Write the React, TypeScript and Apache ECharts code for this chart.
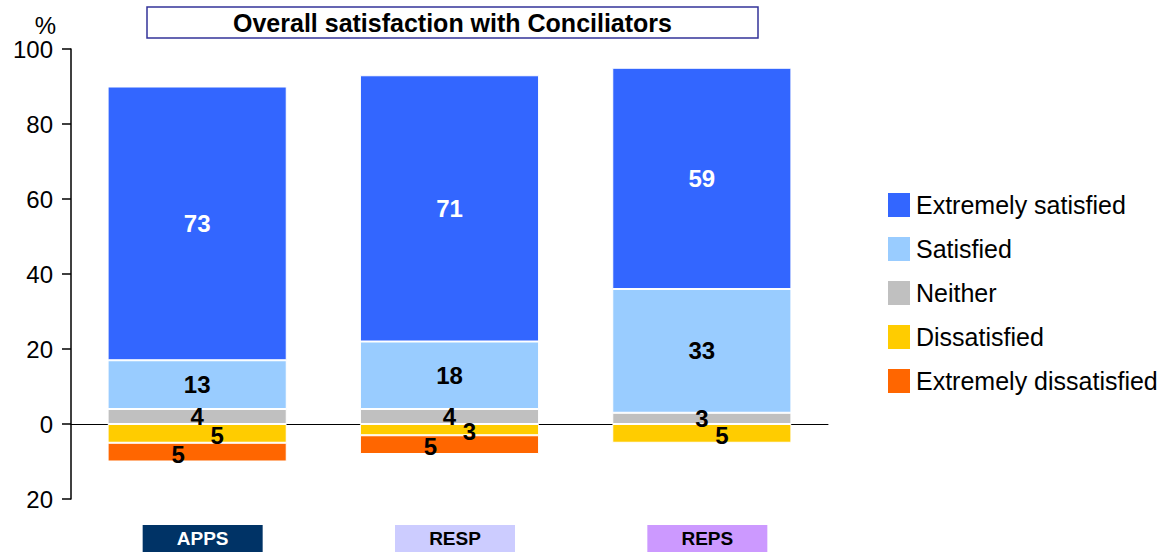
import React, { useEffect, useRef } from "react";
import * as echarts from "echarts";

const categories = ["APPS", "RESP", "REPS"];
const extremelySatisfied = [73, 71, 59];
const satisfied = [13, 18, 33];
const neither = [4, 4, 3];
const dissatisfied = [-5, -3, -5];
const extremelyDissatisfied = [-5, -5, null];
const legendOrder = ["Extremely satisfied", "Satisfied", "Neither", "Dissatisfied", "Extremely dissatisfied"];
const yTicks = { min: -20, max: 100, interval: 20 };

const FONT = "Arial, 'Liberation Sans', sans-serif";

export default function App() {
  const ref = useRef<HTMLDivElement>(null);
  useEffect(() => {
    if (!ref.current) return;
    const chart = echarts.init(ref.current, null, { renderer: "svg" });
    const absFmt = (p: any) => (p.value == null || p.value === 0 ? "" : String(Math.abs(p.value)));
    const lbl = (color: string, offset: number[] = [0, 0]) => ({
      show: true,
      position: "inside",
      color,
      fontSize: 24,
      fontWeight: "bold",
      fontFamily: FONT,
      offset,
      formatter: absFmt,
    });
    const seriesBase = {
      type: "bar",
      stack: "total",
      barCategoryGap: "29%",
      xAxisIndex: 0,
      yAxisIndex: 0,
    };
    const catBox = (bg: string, color: string) => ({
      width: 120,
      height: 27,
      lineHeight: 27,
      align: "center",
      backgroundColor: bg,
      color,
      fontSize: 19,
      fontWeight: "bold",
      fontFamily: FONT,
    });
    chart.setOption({
      animation: false,
      backgroundColor: "#ffffff",
      title: {
        text: "Overall satisfaction with Conciliators",
        left: 147,
        top: 7,
        padding: [4, 86, 3, 86],
        borderColor: "#333399",
        borderWidth: 1.5,
        textStyle: { fontSize: 25, fontWeight: "bold", color: "#000", fontFamily: FONT, lineHeight: 24 },
      },
      legend: {
        orient: "vertical",
        left: 881,
        top: 186,
        itemWidth: 24,
        itemHeight: 26,
        itemGap: 16,
        icon: "rect",
        data: legendOrder,
        textStyle: { fontSize: 25, color: "#000", fontFamily: FONT },
        selectedMode: false,
      },
      grid: { left: 71, right: 339, top: 49, bottom: 53, containLabel: false },
      xAxis: [
        {
          type: "category",
          data: categories,
          position: "top",
          axisLine: { onZero: true, lineStyle: { color: "#000", width: 1 } },
          axisTick: { show: false },
          axisLabel: { show: false },
        },
        {
          type: "category",
          data: categories,
          position: "bottom",
          axisLine: { show: false, onZero: false },
          axisTick: { show: false },
          axisLabel: {
            margin: 26,
            formatter: (v: string) => `{s|}{${v}|${v}}`,
            rich: {
              s: { width: 11 },
              APPS: catBox("#003366", "#fff"),
              RESP: catBox("#CCCCFF", "#000"),
              REPS: catBox("#CC99FF", "#000"),
            },
          },
        },
      ],
      yAxis: {
        type: "value",
        min: yTicks.min,
        max: yTicks.max,
        interval: yTicks.interval,
        name: "%",
        nameLocation: "end",
        nameGap: 12,
        nameTextStyle: { fontSize: 24, color: "#000", fontFamily: FONT, align: "right", padding: [0, 15, 0, 0] },
        axisLine: { show: true, lineStyle: { color: "#000", width: 1.5 } },
        axisTick: { show: true, length: 9, lineStyle: { color: "#000", width: 1.5 } },
        axisLabel: {
          fontSize: 24,
          color: "#000",
          fontFamily: FONT,
          margin: 18,
          formatter: (v: number) => String(Math.abs(v)),
        },
        splitLine: { show: false },
      },
      series: [
        { ...seriesBase, name: "Neither", data: neither, itemStyle: { color: "#C0C0C0", borderColor: "#fff", borderWidth: 1 }, label: lbl("#000") },
        { ...seriesBase, name: "Satisfied", data: satisfied, itemStyle: { color: "#99CCFF", borderColor: "#fff", borderWidth: 1 }, label: lbl("#000") },
        { ...seriesBase, name: "Extremely satisfied", data: extremelySatisfied, itemStyle: { color: "#3366FF", borderColor: "#fff", borderWidth: 1 }, label: lbl("#fff") },
        { ...seriesBase, name: "Dissatisfied", data: dissatisfied, itemStyle: { color: "#FFCC00", borderColor: "#fff", borderWidth: 1 }, label: lbl("#000", [20, 2]) },
        { ...seriesBase, name: "Extremely dissatisfied", data: extremelyDissatisfied, itemStyle: { color: "#FF6600", borderColor: "#fff", borderWidth: 1 }, label: lbl("#000", [-19, 2]) },
      ],
    });
    return () => chart.dispose();
  }, []);
  return <div ref={ref} style={{ position: "fixed", left: 0, top: 0, width: 1167, height: 552 }} />;
}
